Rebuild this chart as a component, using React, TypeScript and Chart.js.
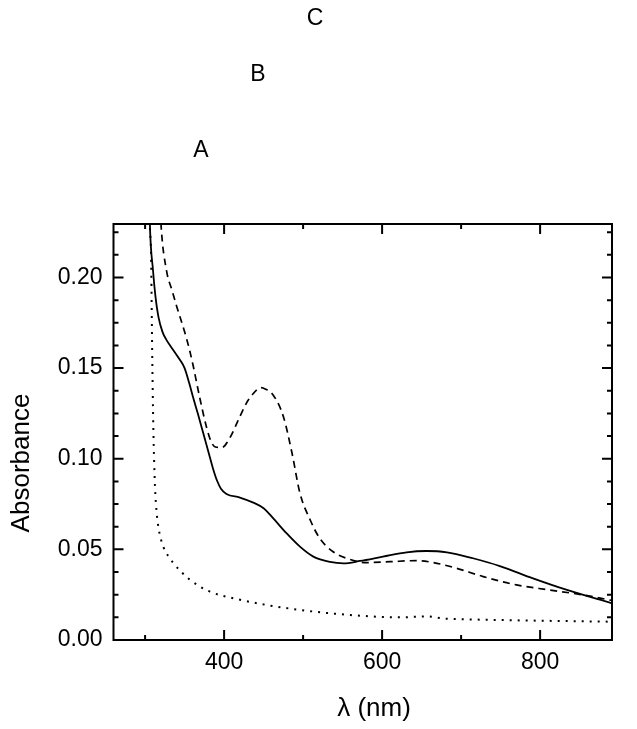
import React, { useEffect, useRef } from "react";
import { Chart, registerables } from "chart.js";

Chart.register(...registerables);

const solidX = [302, 306, 310, 313, 317, 322, 327, 334, 344, 350, 356, 361, 367, 374, 380, 386, 391, 396, 403, 420, 437, 450, 462, 479, 496, 513, 534, 551, 572, 601, 631, 656, 682, 715, 749, 791, 834, 891];
const solidY = [0.32, 0.23, 0.204, 0.19, 0.178, 0.17, 0.1656, 0.161, 0.1546, 0.15, 0.1415, 0.1335, 0.1245, 0.1135, 0.104, 0.0945, 0.088, 0.0835, 0.0806, 0.0786, 0.0758, 0.0727, 0.0672, 0.0589, 0.0515, 0.046, 0.0431, 0.0423, 0.0436, 0.046, 0.0484, 0.0491, 0.0484, 0.0451, 0.0408, 0.034, 0.0276, 0.0202];

const dashX = [316, 320, 327, 334, 340, 350, 356, 361, 369, 378, 384, 389, 397, 407, 420, 430, 437, 446, 452, 462, 475, 486, 496, 509, 521, 538, 555, 580, 610, 644, 665, 694, 728, 770, 812, 855, 891];
const dashY = [0.27, 0.23, 0.204, 0.193, 0.184, 0.17, 0.1605, 0.151, 0.134, 0.117, 0.109, 0.1065, 0.1062, 0.1113, 0.1233, 0.132, 0.136, 0.1392, 0.1385, 0.1352, 0.1233, 0.103, 0.081, 0.0662, 0.0561, 0.0487, 0.0451, 0.0427, 0.0432, 0.0438, 0.0427, 0.0396, 0.035, 0.0304, 0.0276, 0.0248, 0.0218];

const dotX = [303, 306, 307.5, 309, 310.4, 312.5, 314.5, 316.7, 319.5, 323, 329, 336, 346, 357, 382, 412, 454, 496, 559, 623, 656, 680, 707, 791, 891];
const dotY = [0.32, 0.23, 0.2136, 0.158, 0.1177, 0.085, 0.071, 0.0626, 0.0565, 0.0515, 0.0465, 0.0423, 0.0375, 0.0331, 0.0267, 0.023, 0.0193, 0.0166, 0.0138, 0.0125, 0.013, 0.0118, 0.0114, 0.0107, 0.0101];

const xMajorTicks = [400, 600, 800];
const xMinorTicks = [300, 500, 700];
const yMajorTicks = [0, 0.05, 0.1, 0.15, 0.2];
const yMinorTicks = [0.0125, 0.025, 0.0375, 0.0625, 0.075, 0.0875, 0.1125, 0.125, 0.1375, 0.1625, 0.175, 0.1875, 0.2125, 0.225];

const curveLabels = ["A", "B", "C"];
const xTitle = "λ (nm)";
const yTitle = "Absorbance";

const FONT = "'Liberation Sans', Arial, sans-serif";

const toPts = (xs: number[], ys: number[]) => xs.map((x, i) => ({ x, y: ys[i] }));

const framePlugin = {
  id: "framePlugin",
  afterDraw(chart: any) {
    const { ctx, chartArea, scales } = chart;
    const { left, right, top, bottom } = chartArea;
    const xs = scales.x;
    const ys = scales.y;
    ctx.save();
    ctx.strokeStyle = "#000";
    ctx.lineWidth = 2;
    ctx.strokeRect(left, top, right - left, bottom - top);
    const major = 10;
    const minor = 5;
    ctx.beginPath();
    const xt = (v: number, len: number) => {
      const p = xs.getPixelForValue(v);
      ctx.moveTo(p, bottom);
      ctx.lineTo(p, bottom - len);
      ctx.moveTo(p, top);
      ctx.lineTo(p, top + len);
    };
    const yt = (v: number, len: number) => {
      const p = ys.getPixelForValue(v);
      ctx.moveTo(left, p);
      ctx.lineTo(left + len, p);
      ctx.moveTo(right, p);
      ctx.lineTo(right - len, p);
    };
    xMajorTicks.forEach((v) => xt(v, major));
    xMinorTicks.forEach((v) => xt(v, minor));
    yMajorTicks.forEach((v) => yt(v, major));
    yMinorTicks.forEach((v) => yt(v, minor));
    ctx.stroke();

    ctx.fillStyle = "#000";
    ctx.textAlign = "center";
    ctx.textBaseline = "middle";
    ctx.font = `23px ${FONT}`;
    ctx.fillText(curveLabels[0], 201, 151);
    ctx.fillText(curveLabels[1], 258, 75);
    ctx.fillText(curveLabels[2], 315, 19);

    ctx.font = `26px ${FONT}`;
    ctx.fillText(xTitle, 374, 709);
    ctx.save();
    ctx.translate(22, 463);
    ctx.rotate(-Math.PI / 2);
    ctx.fillText(yTitle, 0, 0);
    ctx.restore();
    ctx.restore();
  },
};

export default function App() {
  const ref = useRef<HTMLCanvasElement | null>(null);
  useEffect(() => {
    if (!ref.current) return;
    const chart = new Chart(ref.current, {
      type: "line",
      data: {
        datasets: [
          {
            data: toPts(solidX, solidY),
            borderColor: "#000",
            borderWidth: 1.8,
            pointRadius: 0,
            cubicInterpolationMode: "monotone",
            fill: false,
          },
          {
            data: toPts(dashX, dashY),
            borderColor: "#000",
            borderWidth: 1.7,
            borderDash: [7, 5],
            pointRadius: 0,
            cubicInterpolationMode: "monotone",
            fill: false,
          },
          {
            data: toPts(dotX, dotY),
            borderColor: "#000",
            borderWidth: 2,
            borderDash: [2, 6],
            pointRadius: 0,
            cubicInterpolationMode: "monotone",
            fill: false,
          },
        ],
      },
      options: {
        animation: false,
        responsive: false,
        events: [],
        layout: { padding: { top: 224, right: 25, left: 0, bottom: 0 } },
        plugins: { legend: { display: false }, tooltip: { enabled: false } },
        scales: {
          x: {
            type: "linear",
            min: 260,
            max: 891,
            grid: { display: false, drawTicks: false },
            border: { display: false },
            afterBuildTicks: (s: any) => {
              s.ticks = xMajorTicks.map((v) => ({ value: v }));
            },
            afterFit: (s: any) => {
              s.height = 89;
            },
            ticks: {
              padding: 9,
              color: "#000",
              font: { family: FONT, size: 23 },
              maxRotation: 0,
              autoSkip: false,
            },
          },
          y: {
            type: "linear",
            min: 0,
            max: 0.2295,
            grid: { display: false, drawTicks: false },
            border: { display: false },
            afterBuildTicks: (s: any) => {
              s.ticks = yMajorTicks.map((v) => ({ value: v }));
            },
            afterFit: (s: any) => {
              s.width = 113.5;
            },
            ticks: {
              padding: 11,
              color: "#000",
              autoSkip: false,
              font: { family: FONT, size: 23 },
              callback: (v: any) => Number(v).toFixed(2),
            },
          },
        },
      },
      plugins: [framePlugin],
    });
    return () => chart.destroy();
  }, []);
  return (
    <div style={{ position: "absolute", left: 0, top: 0, width: 637, height: 729, background: "#fff" }}>
      <canvas ref={ref} width={637} height={729} style={{ width: 637, height: 729 }} />
    </div>
  );
}
